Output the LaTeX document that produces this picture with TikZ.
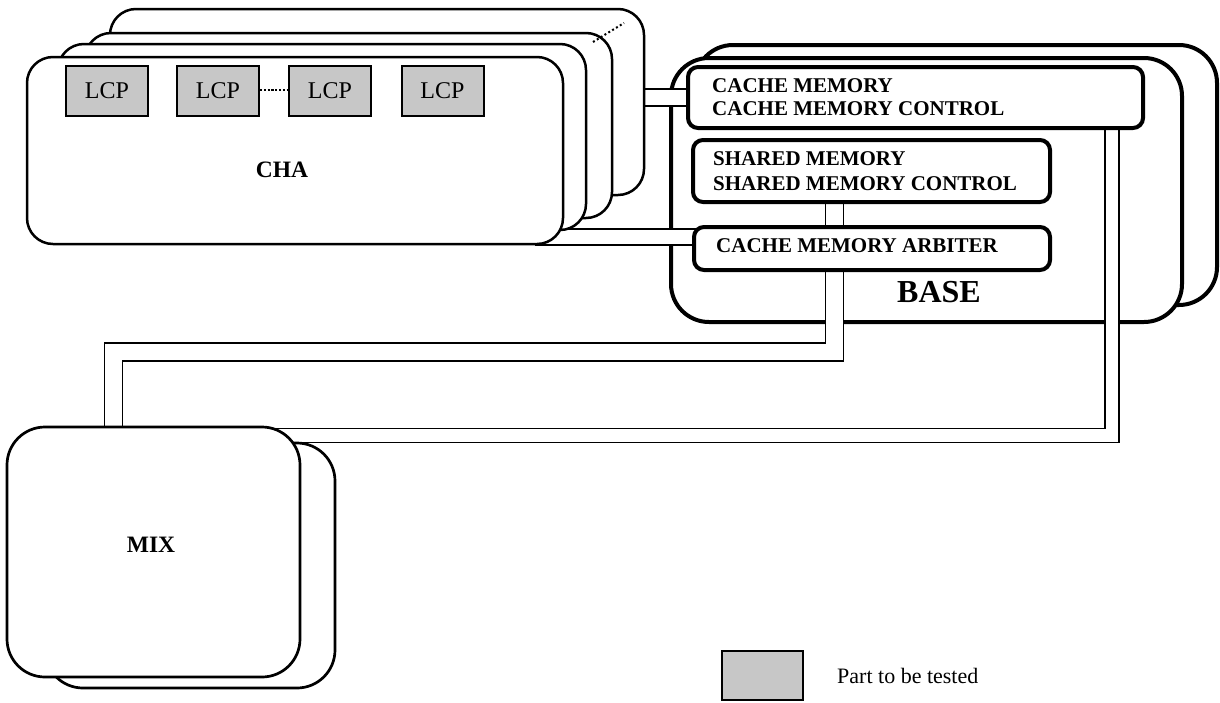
\documentclass[tikz,border=0pt]{standalone}
\usepackage{fontspec}
\setmainfont{Liberation Serif}
\begin{document}
\begin{tikzpicture}[x=1pt,y=-1pt,
  chabox/.style={draw, line width=2.5pt, rounded corners=26pt, fill=white, inner sep=0pt},
  basebox/.style={draw, line width=4pt, rounded corners=38pt, fill=white, inner sep=0pt},
  unitbox/.style={draw, line width=4pt, rounded corners=10pt, fill=white, inner sep=0pt},
  mixbox/.style={draw, line width=2.7pt, rounded corners=38pt, fill=white, inner sep=0pt},
  lcpbox/.style={draw, line width=2pt, fill=black!22, minimum width=82pt, minimum height=50pt, inner sep=0pt, font=\fontsize{24}{26}\selectfont},
  conn/.style={line width=1.3pt, double=white, double distance=#1},
  unittext/.style={anchor=west, align=left, inner sep=0pt, font=\fontsize{21}{23}\selectfont\bfseries},
  bigtext/.style={inner sep=0pt, font=\fontsize{23.5}{26}\selectfont\bfseries},
  moredots/.style={line width=2pt, dash pattern=on 2pt off 2.5pt},
  lcpdots/.style={line width=2.8pt, dash pattern=on 2.2pt off 1.6pt}
]
\useasboundingbox (0,0) rectangle (1220,702);

% BASE stack
\node[basebox, minimum width=522pt, minimum height=260pt] (base2) at (956,175) {};
\node[basebox, minimum width=511pt, minimum height=264pt] (base1) at (926.5,190) {};

% coordinates for connectors
\coordinate (c2s) at (535,237);
\coordinate (c3b) at (834.5,352);
\coordinate (c3c) at (113.5,352);
\coordinate (c4b) at (1112,435.5);
\coordinate (cmc) at (915.5,97.5);
\coordinate (shc) at (871.5,171);
\coordinate (mxc) at (153.5,552);

% connectors
\draw[conn=15.5pt] ([xshift=-12pt]cmc -| 644,0) -- ([xshift=12pt]cmc -| 688,0);
\draw[conn=14.5pt] (c2s) -- ([xshift=12pt]c2s -| 694,0);
\draw[conn=16.8pt] (shc -| c3b) -- (c3b) -- (c3c) -- (c3c |- mxc);
\draw[conn=12.8pt] (cmc -| c4b) -- (c4b) -- (c4b -| mxc);

% CHA stack
\node[chabox, minimum width=534pt, minimum height=186pt] (cha4) at (377,102) {};
\node[chabox, minimum width=527pt, minimum height=185pt] (cha3) at (348.5,125.5) {};
\node[chabox, minimum width=528pt, minimum height=186pt] (cha2) at (322,137) {};
\node[chabox, minimum width=536pt, minimum height=187pt] (cha1) at (295,150.5) {};
\coordinate (d1) at (593,42);
\coordinate (d2) at (624,23);
\draw[moredots] (d1) -- (d2);

\node[lcpbox] (lcp1) at (107,91) {LCP};
\node[lcpbox] (lcp2) at (218,91) {LCP};
\node[lcpbox] (lcp3) at (330,91) {LCP};
\node[lcpbox] (lcp4) at (442.5,91) {LCP};
\draw[lcpdots] ([yshift=1pt]lcp2.east) -- ([yshift=1pt]lcp3.west);
\node[bigtext] (chat) at (282,170) {CHA};

% MIX stack
\node[mixbox, minimum width=290pt, minimum height=245pt] (mix2) at (190,565.5) {};
\node[mixbox, minimum width=293pt, minimum height=250pt] (mix1) at (mxc) {};
\node[bigtext] (mixt) at (151,545) {MIX};

% units inside BASE
\node[unitbox, minimum width=455pt, minimum height=61pt] (cm) at (cmc) {};
\node[unitbox, minimum width=357pt, minimum height=62pt] (shm) at (shc) {};
\node[unitbox, minimum width=356pt, minimum height=43pt] (arb) at (872,248.5) {};
\node[unittext] (cmt) at (712,97) {CACHE MEMORY\\CACHE MEMORY CONTROL};
\node[unittext, font=\fontsize{21}{25}\selectfont\bfseries] (sht) at (713,171) {SHARED MEMORY\\SHARED MEMORY CONTROL};
\node[unittext] (arbt) at (716,246) {CACHE MEMORY ARBITER};
\node[inner sep=0pt, font=\fontsize{32}{34}\selectfont\bfseries] (baset) at (939,292) {BASE};

% legend
\node[draw, line width=2pt, fill=black!22, minimum width=81pt, minimum height=49pt, inner sep=0pt] (leg) at (762.5,675.5) {};
\node[anchor=west, inner sep=0pt, font=\fontsize{22}{24}\selectfont] (legt) at (837,676) {Part to be tested};
\end{tikzpicture}
\end{document}
